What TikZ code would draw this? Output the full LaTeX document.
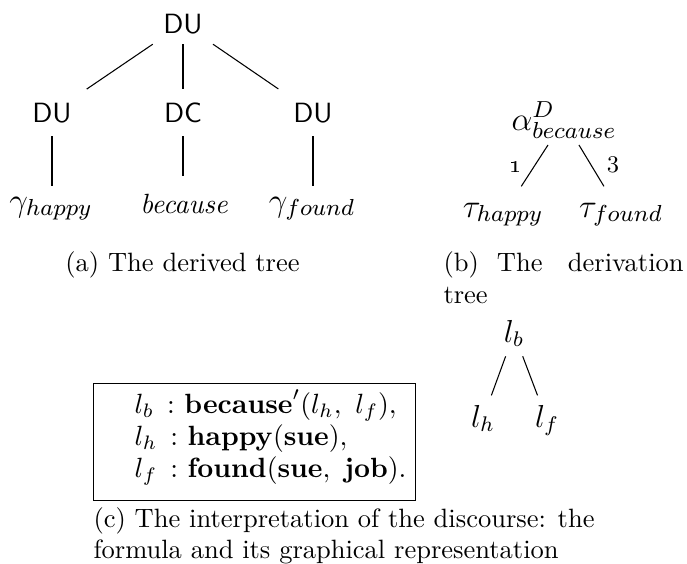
\documentclass[tikz,border=0pt]{standalone}
\usepackage{fix-cm}
\begin{document}
\begin{tikzpicture}[x=0.3774pt,y=-0.3774pt,
  edge/.style={line width=0.4pt},
  sfnode/.style={font=\fontsize{10.5}{12}\sffamily, anchor=base},
  rootsf/.style={sfnode, inner xsep=4pt, inner ysep=3.8pt},
  midsf/.style={sfnode, inner xsep=5.5pt, inner ysep=5pt},
  mathleaf/.style={font=\fontsize{12.5}{15}\selectfont, anchor=base, inner xsep=1pt, inner ysep=3.8pt},
  itleaf/.style={font=\fontsize{10.5}{12}\selectfont\itshape, anchor=base, inner xsep=1pt, inner ysep=6.3pt},
  dnode/.style={font=\fontsize{12.5}{15}\selectfont, anchor=base, inner xsep=1pt, inner ysep=2.3pt},
  dleaf/.style={font=\fontsize{12.5}{15}\selectfont, anchor=base, inner xsep=1pt, inner ysep=6pt},
  lnode/.style={font=\fontsize{12}{14}\selectfont, anchor=base, inner sep=3.4pt},
  edgelab/.style={font=\fontsize{9}{10}\selectfont, anchor=base, inner sep=0pt},
  formline/.style={font=\fontsize{10.5}{12}\selectfont, anchor=base west, inner sep=0pt},
  captext/.style={font=\fontsize{10}{12}\selectfont, inner sep=0pt}
]
\useasboundingbox (0,0) rectangle (687,563);

% (a) derived tree
\node[rootsf] (du) at (183,33) {DU};
\node[midsf] (du1) at (52,122) {DU};
\node[midsf] (dc) at (183,122) {DC};
\node[midsf] (du2) at (313,122) {DU};
\node[mathleaf] (g1) at (51,211) {$\gamma_{happy}$};
\node[itleaf] (bc) at (184,213) {because};
\node[mathleaf] (g2) at (312,211) {$\gamma_{found}$};
\draw[edge] (du) -- (du1);
\draw[edge] (du) -- (dc);
\draw[edge] (du) -- (du2);
\draw[edge] (du1.south) -- (du1.south |- g1.north);
\draw[edge] (dc.south) -- (dc.south |- bc.north);
\draw[edge] (du2.south) -- (du2.south |- g2.north);
\node[captext, anchor=base] (capa) at (182.5,271.5) {(a) The derived tree};

% (b) derivation tree
\node[dnode] (al) at (564,130) {$\alpha^{D}_{because}$};
\node[dleaf] (th) at (503,217) {$\tau_{happy}$};
\node[dleaf] (tf) at (621,217) {$\tau_{found}$};
\draw[edge] (al) -- (th);
\draw[edge] (al) -- (tf);
\node[edgelab] (lab1) at (516,172) {\oldstylenums{1}};
\node[edgelab] (lab3) at (613,172) {3};
\node[captext, anchor=base west] (capb1) at (443,271.5) {\makebox[90.6pt][l]{(b)\hspace{6.8pt}The\hfill derivation}};
\node[captext, anchor=base west] (capb2) at (443,303) {tree};

% (c) interpretation
\node[lnode] (lb) at (514,342) {$l_b$};
\node[lnode] (lh) at (483,427) {$l_h$};
\node[lnode] (lf) at (547,427) {$l_f$};
\draw[edge] (lb) -- (lh);
\draw[edge] (lb) -- (lf);

\node[draw, line width=0.5pt, anchor=north west, minimum width=121.5pt, minimum height=44.2pt, inner sep=0pt] (frame) at (93,383) {};
\node[formline] (f1) at (134,413) {$l_b\hspace{5pt}{:}\hspace{3.6pt}\mathbf{because}'(l_h,\ l_f),$};
\node[formline] (f2) at (134,445) {$l_h\hspace{5pt}{:}\hspace{3.6pt}\mathbf{happy}(\mathbf{sue}),$};
\node[formline] (f3) at (134,477) {$l_f\hspace{5pt}{:}\hspace{3.6pt}\mathbf{found}(\mathbf{sue},\ \mathbf{job}).$};
\node[captext, anchor=base west] (capc1) at (93,527) {(c) The interpretation of the discourse: the};
\node[captext, anchor=base west] (capc2) at (93,558) {formula and its graphical representation};
\end{tikzpicture}
\end{document}
